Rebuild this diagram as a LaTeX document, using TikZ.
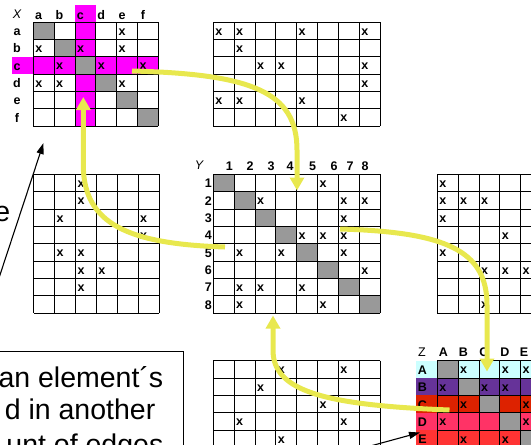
\documentclass[tikz,border=0pt]{standalone}
\usepackage{fontspec}
\setmainfont{Liberation Sans}
\usetikzlibrary{arrows.meta}
\definecolor{hl}{HTML}{FF00FF}
\definecolor{diagc}{HTML}{999999}
\definecolor{yel}{HTML}{E8E84E}
\definecolor{zA}{HTML}{CCFFFF}
\definecolor{zB}{HTML}{663399}
\definecolor{zC}{HTML}{DD2200}
\definecolor{zD}{HTML}{FF3366}
\definecolor{zE}{HTML}{FF3333}
\def\cw{20.85}
\def\ch{17.33}
% grid: x0, y0, ncols, nrows
\newcommand{\mygrid}[4]{%
  \foreach \ii in {0,...,#3} \draw[gridline] ({#1+\ii*\cw},#2) -- ({#1+\ii*\cw},{#2+#4*\ch});
  \foreach \jj in {0,...,#4} \draw[gridline] (#1,{#2+\jj*\ch}) -- ({#1+#3*\cw},{#2+\jj*\ch});
}
% marks: prefix, x0, y0, list row/col
\newcommand{\mymarks}[4]{%
  \foreach \rr/\cc in {#4} \node[xmark] (#1-\rr-\cc) at ({#2+(\cc-1)*\cw+5.5},{#3+(\rr-0.5)*\ch+1.2}) {x};
}
% diagonal: x0, y0, n
\newcommand{\mydiag}[3]{%
  \foreach \kk in {1,...,#3} \fill[diagc] ({#1+(\kk-1)*\cw},{#2+(\kk-1)*\ch}) rectangle ++(\cw,\ch);
}
\begin{document}
\begin{tikzpicture}[x=1pt,y=-1pt,
  gridline/.style={line width=0.75pt,black},
  xmark/.style={font=\fontsize{12.5}{14}\selectfont\bfseries,inner sep=0pt,anchor=center},
  lab/.style={font=\fontsize{12.5}{14}\selectfont\bfseries,inner sep=0pt,text height=9pt,text depth=0pt,anchor=center},
  setlab/.style={font=\fontsize{12.5}{14}\selectfont,inner sep=0pt,anchor=base},
  bigtext/.style={font=\fontsize{28.5}{30}\selectfont,inner sep=0pt,anchor=base east},
  yarrow/.style={draw=yel,line width=5pt,-{Triangle[width=14pt,length=13pt]}},
  barrow/.style={draw=black,line width=1.1pt,-{Triangle[width=7pt,length=11pt]}}
]
\useasboundingbox (0,0) rectangle (531,445);
\clip (0,0) rectangle (531,445);

% ---------- X grid (top left) ----------
\fill[hl] (75.0,5) rectangle (95.85,125.98);
\fill[hl] (11.7,56.66) rectangle (158.4,73.99);
\mydiag{33.3}{22}{6}
\mygrid{33.3}{22}{6}{6}
\mymarks{X}{33.3}{22}{1/5,2/1,2/3,2/5,3/2,3/4,3/6,4/1,4/2,4/5}
\node[setlab,font=\fontsize{12.5}{14}\selectfont\itshape] (Xname) at (17,18.7) {X};
\foreach \l [count=\i] in {a,b,c,d,e,f} {
  \node[lab] (Xc-\l) at ({33.3+(\i-1)*\cw+5.3},14.8) {\l};
  \node[lab] (Xr-\l) at (17,{22+(\i-0.5)*\ch+0.5}) {\l};
}

% ---------- X-Y grid (top middle) ----------
\mygrid{213.3}{22}{8}{6}
\mymarks{XY}{213.3}{22}{1/1,1/2,1/5,1/8,2/2,3/3,3/4,3/8,4/8,5/1,5/2,5/5,6/7}

% ---------- Y-X grid (middle left) ----------
\mygrid{33.8}{174.3}{6}{8}
\mymarks{YX}{33.8}{174.3}{1/3,2/3,3/2,3/6,4/6,5/2,5/3,6/3,6/4,7/3}

% ---------- Y grid (center) ----------
\mydiag{213.3}{174.3}{8}
\mygrid{213.3}{174.3}{8}{8}
\mymarks{Y}{213.3}{174.3}{1/6,2/3,2/7,2/8,3/7,4/5,4/6,4/7,5/2,5/4,5/7,6/8,7/2,7/3,7/5,8/2,8/6}
\node[setlab,font=\fontsize{12.5}{14}\selectfont\itshape] (Yname) at (199,169.5) {Y};
\foreach \px [count=\i] in {229.3,250,271,290,312.7,334,350,365} {
  \node[lab] (Yc-\i) at (\px,165.5) {\i};
  \node[lab] (Yr-\i) at (208.3,{174.3+(\i-0.5)*\ch+0.5}) {\i};
}

% ---------- Y-Z grid (middle right) ----------
\mygrid{437.3}{174.3}{5}{8}
\mymarks{YZ}{437.3}{174.3}{1/1,2/1,2/2,2/3,3/1,4/4,5/1,6/3,6/4,6/5,8/3}

% ---------- Z-Y grid (bottom middle) ----------
\mygrid{213.3}{360.7}{8}{5}
\mymarks{ZY}{213.3}{360.7}{1/4,1/7,2/3,3/6,4/2,4/7,5/4}

% ---------- Z grid (bottom right) ----------
\foreach \cl [count=\i] in {zA,zB,zC,zD,zE}
  \fill[\cl] (416,{360.7+(\i-1)*\ch}) rectangle (541.6,{360.7+\i*\ch});
\mydiag{437.3}{360.7}{5}
\mygrid{437.3}{360.7}{5}{5}
\mymarks{Z}{437.3}{360.7}{1/2,1/4,1/5,2/1,2/3,2/4,3/2,3/5,4/1,4/5,5/2,5/4}
\node[setlab] (Zname) at (422,356.7) {Z};
\foreach \l/\px [count=\i] in {A/443.3,B/463.3,C/484,D/505,E/524} {
  \node[lab] (Zc-\l) at (\px,352.2) {\l};
  \node[lab] (Zr-\l) at (422.5,{360.7+(\i-0.5)*\ch+0.5}) {\l};
}

% ---------- text fragments ----------
\node[bigtext] (frag) at (10.5,221.7) {e};
\draw[line width=0.8pt] (-20,351) rectangle (183.3,500);
\node[bigtext] (t1) at (163.5,387) {an element´s};
\node[bigtext] (t2) at (155.5,419) {d in another};
\node[bigtext] (t3) at (163.5,454) {unt of edges};

% ---------- yellow arrows ----------
\coordinate (a1s) at (132,71);   \coordinate (a1e) at (297,190.5);
\coordinate (a2s) at (225,247);  \coordinate (a2e) at (83.3,97);
\coordinate (a3s) at (340,229);  \coordinate (a3e) at (487,371.5);
\coordinate (a4s) at (449.5,410);\coordinate (a4e) at (273,315.5);
\draw[yarrow] (a1s) .. controls (252,74) and (297,92) .. (297,150) -- (a1e);
\draw[yarrow] (a2s) .. controls (130,244) and (83.3,225) .. (83.3,165) -- (a2e);
\draw[yarrow] (a3s) .. controls (445,232) and (487,250) .. (487,305) -- (a3e);
\draw[yarrow] (a4s) .. controls (320,405) and (273,390) .. (273,350) -- (a4e);

% ---------- black arrows ----------
\coordinate (b1s) at (-5,290);   \coordinate (b1e) at (43.5,143);
\coordinate (b2s) at (330,457);  \coordinate (b2e) at (420,432.5);
\draw[barrow] (b1s) -- (b1e);
\draw[barrow] (b2s) -- (b2e);
\end{tikzpicture}
\end{document}
